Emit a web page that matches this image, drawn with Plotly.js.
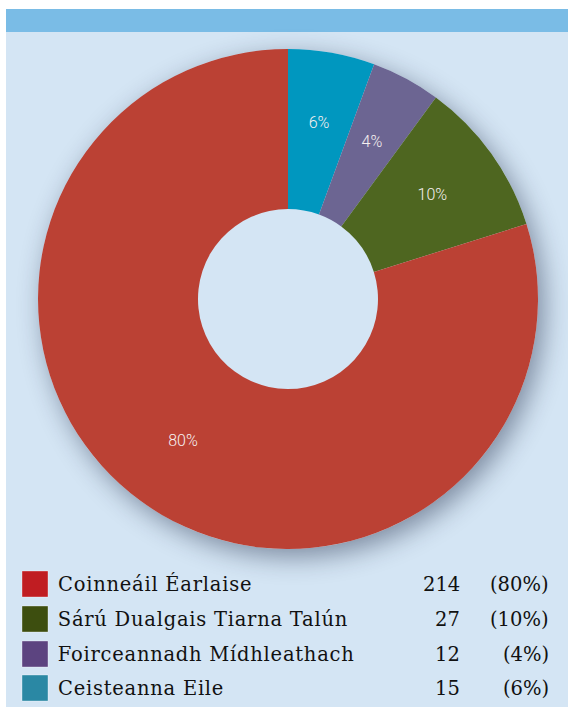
<!DOCTYPE html>
<html><head><meta charset="utf-8">
<script src="https://cdn.plot.ly/plotly-3.0.1.min.js"></script>
<style>
html,body{margin:0;padding:0;background:#fff;}
#wrap{position:relative;width:568px;height:707px;overflow:hidden;background:#fff;}
#panel{position:absolute;left:6px;top:32px;width:562px;height:675px;background:#d4e5f4;}
#bar{position:absolute;left:6px;top:9px;width:562px;height:23px;background:#7abce6;}
#shadow{position:absolute;left:38px;top:49px;width:500px;height:500px;border-radius:50%;background:#d4e5f4;box-shadow:6px 8px 26px rgba(20,30,60,0.45);}
#chart{position:absolute;left:0;top:0;width:568px;height:707px;}
</style></head>
<body><div id="wrap"><div id="panel"></div><div id="bar"></div><div id="shadow"></div><div id="chart"></div></div>
<script>
const categories = ["Ceisteanna Eile","Foirceannadh Mídhleathach","Sárú Dualgais Tiarna Talún","Coinneáil Éarlaise"];
const counts = [15, 12, 27, 214];
const sliceColors = ["#0097bf","#6c6592","#4e6620","#bb4134"];
// legend order (top to bottom)
const legendCategories = ["Coinneáil Éarlaise","Sárú Dualgais Tiarna Talún","Foirceannadh Mídhleathach","Ceisteanna Eile"];
const legendCounts = [214, 27, 12, 15];
const legendColors = ["#c01d22","#3d4e0f","#5c4480","#2a88a4"];

const W = 568, H = 707;
const total = counts.reduce((a,b)=>a+b,0);
const px = x => x / W;
const py = y => 1 - y / H;
const pieDomain = {x: [px(38), px(538)], y: [py(549), py(49)]};

const pie = {
  type: 'pie',
  labels: categories,
  values: counts,
  sort: false,
  direction: 'clockwise',
  rotation: 0,
  hole: 0.36,
  marker: {colors: sliceColors, line: {width: 0}},
  textinfo: 'none',
  showlegend: false,
  hoverinfo: 'none',
  domain: pieDomain
};

// percent labels placed at each slice's mid-angle on the ring, via polar axes
const midTheta = [];
const labelR = [];
const pctText = [];
let cum = 0;
counts.forEach(v => {
  midTheta.push((cum + v / 2) / total * 360);
  cum += v;
  labelR.push(0.71);
  pctText.push(Math.round(v / total * 100) + '%');
});
const labels = {
  type: 'scatterpolar',
  mode: 'text',
  r: labelR,
  theta: midTheta,
  text: pctText,
  textposition: 'middle center',
  textfont: {family: 'Roboto, Open Sans, sans-serif', size: 16, color: '#f6f0f0', weight: 300},
  showlegend: false,
  hoverinfo: 'none',
  cliponaxis: false
};

const rowY = [584, 619, 654, 688];
const annotations = [];
const shapes = [];
const fnt = {family: 'DejaVu Serif, serif', size: 19.5, color: '#111'};
legendCategories.forEach((c, i) => {
  const y = py(rowY[i]);
  shapes.push({type: 'rect', xref: 'paper', yref: 'paper', x0: px(22), x1: px(48),
    y0: py(rowY[i] + 13), y1: py(rowY[i] - 13), fillcolor: legendColors[i],
    line: {color: 'rgba(255,255,255,0.35)', width: 1}});
  annotations.push({xref: 'paper', yref: 'paper', x: px(56), y: y, xanchor: 'left', yanchor: 'middle',
    text: c, showarrow: false, font: fnt});
  annotations.push({xref: 'paper', yref: 'paper', x: px(462), y: y, xanchor: 'right', yanchor: 'middle',
    text: String(legendCounts[i]), showarrow: false, font: fnt});
  annotations.push({xref: 'paper', yref: 'paper', x: px(551), y: y, xanchor: 'right', yanchor: 'middle',
    text: '(' + Math.round(legendCounts[i] / total * 100) + '%)', showarrow: false, font: fnt});
});

const layout = {
  width: W, height: H,
  margin: {l: 0, r: 0, t: 0, b: 0},
  paper_bgcolor: 'rgba(0,0,0,0)',
  plot_bgcolor: 'rgba(0,0,0,0)',
  showlegend: false,
  polar: {
    domain: pieDomain,
    bgcolor: 'rgba(0,0,0,0)',
    radialaxis: {range: [0, 1], visible: false},
    angularaxis: {rotation: 90, direction: 'clockwise', visible: false}
  },
  annotations: annotations,
  shapes: shapes
};
Plotly.newPlot('chart', [pie, labels], layout, {displayModeBar: false, staticPlot: true}).then(() => {
  // draw the polar text layer above the pie
  const pl = document.querySelector('#chart .pielayer');
  const po = document.querySelector('#chart .polarlayer');
  if (pl && po) pl.parentNode.insertBefore(po, pl.nextSibling);
  // widen legend labels slightly, keeping their left edge fixed
  document.querySelectorAll('#chart .annotation-text').forEach(t => {
    if (legendCategories.indexOf(t.textContent) >= 0) {
      const w = t.getBBox().width;
      const x = parseFloat(t.getAttribute('x'));
      t.setAttribute('text-anchor', 'start');
      t.setAttribute('x', x - w / 2);
      t.style.letterSpacing = '0.75px';
    }
  });
});
</script></body></html>
